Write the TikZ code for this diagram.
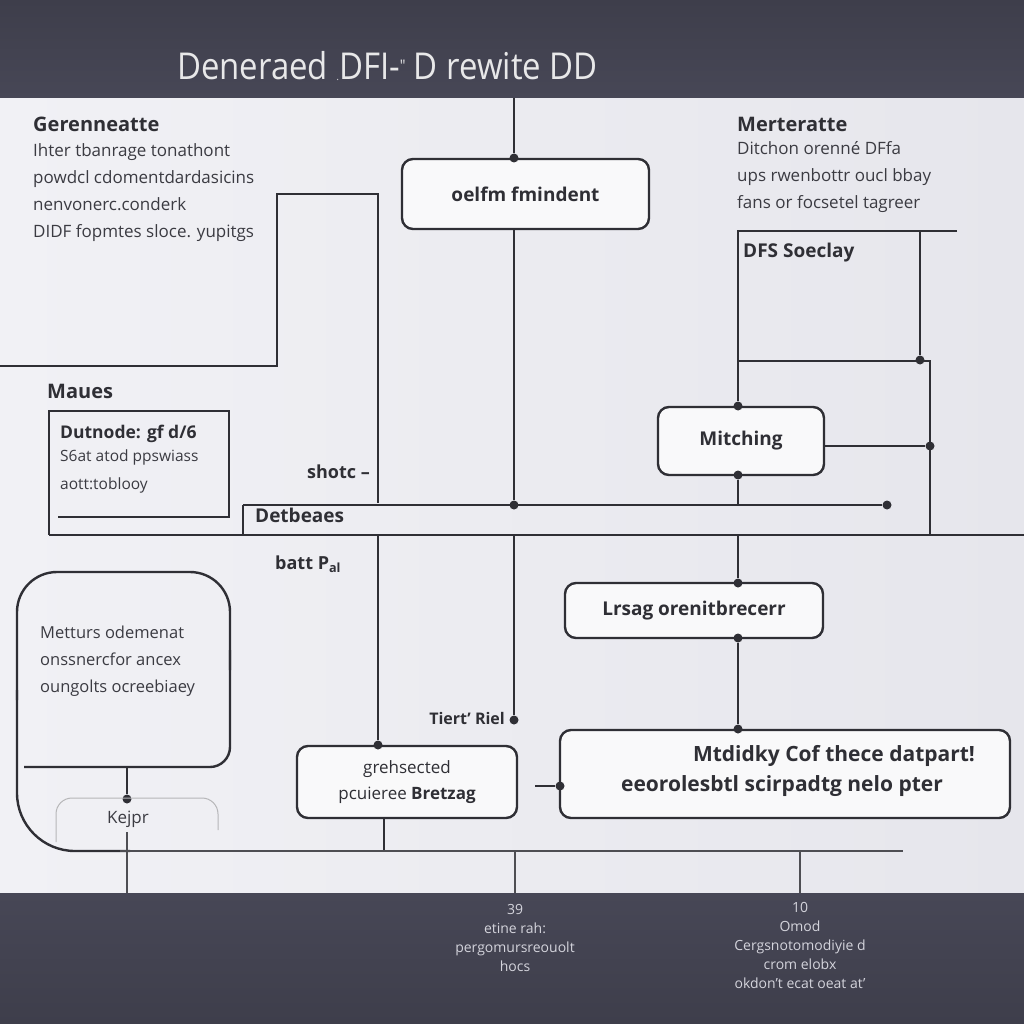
\documentclass[tikz,border=0pt]{standalone}
\usepackage{fontspec}
\setmainfont{Open Sans}
\begin{document}
\definecolor{band}{HTML}{3E3E4B}
\definecolor{bandb}{HTML}{474756}
\definecolor{bgl}{HTML}{F1F1F5}
\definecolor{bgd}{HTML}{E6E6EC}
\definecolor{ink}{HTML}{2F2F35}
\definecolor{txt}{HTML}{3B3B42}
\definecolor{lt}{HTML}{D4D4DC}
\begin{tikzpicture}[x=1pt,y=-1pt,
  ln/.style={draw=ink,line width=2.4pt},
  thinln/.style={draw=ink!85,line width=1.5pt},
  rbox/.style={draw=ink,line width=2.4pt,rounded corners=11pt,fill=white!55!bgl,inner sep=0pt},
  dotc/.style={circle,fill=ink,inner sep=0pt,minimum size=9pt},
  hd/.style={font=\fontsize{20}{24}\selectfont\bfseries,text=ink,inner sep=0pt},
  bl/.style={font=\fontsize{19}{23}\selectfont\bfseries,text=ink,inner sep=0pt},
  body/.style={font=\fontsize{17}{27}\selectfont,text=txt,align=left,inner sep=0pt,anchor=north west},
  foot/.style={font=\fontsize{14}{19}\selectfont,text=lt,align=center,inner sep=0pt,anchor=north}]
\useasboundingbox (0,0) rectangle (1024,1024);
% background
\shade[left color=bgl,right color=bgd] (0,98) rectangle (1024,893);
\shade[top color=band,bottom color=bandb] (0,0) rectangle (1024,98);
\shade[top color=bandb,bottom color=band] (0,893) rectangle (1024,1024);
\node[font=\fontsize{37}{40}\selectfont,text=white!88!band,anchor=base west,inner sep=0pt] (title) at (177,80) {\scalebox{0.89}[1]{Deneraed \raisebox{-1pt}{\fontsize{10}{10}\selectfont .}DFI-\raisebox{8pt}{\fontsize{16}{16}\selectfont ″} D rewite DD}};

% left texts
\node[hd,anchor=base west] (gen) at (33,132) {Gerenneatte};
\node[body] (genb) at (33,143) {Ihter tbanrage tonathont\\powdcl cdomentdardasicins\\nenvonerc.conderk\\DIDF fopmtes sloce. yupitgs};
\node[hd,anchor=base west] (mau) at (47,398) {Maues};
\node[bl,anchor=base west,font=\fontsize{17.5}{22}\selectfont\bfseries] (dut) at (60,438) {Dutnode: gf d/6};
\node[body,font=\fontsize{15.5}{28}\selectfont] (dutb) at (60,450) {S6at atod ppswiass\\aott:toblooy};

% right texts
\node[hd,anchor=base west] (mer) at (737,132) {Merteratte};
\node[body] (merb) at (737,141) {Ditchon orenné DFfa\\ups rwenbottr oucl bbay\\fans or focsetel tagreer};
\node[bl,anchor=base west] (dfs) at (743,258) {DFS Soeclay};

% boxes
\node[rbox,minimum width=247pt,minimum height=70pt,font=\fontsize{19}{23}\selectfont\bfseries,text=ink] (b1) at (525.5,194) {oelfm fmindent};
\node[rbox,minimum width=166pt,minimum height=68pt,font=\fontsize{19}{23}\selectfont\bfseries,text=ink] (mit) at (741,441) {Mitching};
\node[rbox,minimum width=258pt,minimum height=55pt,font=\fontsize{19}{23}\selectfont\bfseries,text=ink] (lrs) at (694,610.5) {Lrsag orenitbrecerr};
\node[rbox,minimum width=450pt,minimum height=88pt] (big) at (785,774) {};
\node[font=\fontsize{21}{25}\selectfont\bfseries,text=ink,inner sep=0pt] (big1) at (834,756) {Mtdidky Cof thece datpart!};
\node[font=\fontsize{21}{25}\selectfont\bfseries,text=ink,inner sep=0pt] (big2) at (782,786) {eeorolesbtl scirpadtg nelo pter};
\node[rbox,minimum width=220pt,minimum height=72pt,align=center,font=\fontsize{17}{26}\selectfont,text=ink] (gre) at (407,782) {grehsected\\pcuieree \textbf{Bretzag}};

% dots
\node[dotc] (d1) at (514,158) {};
\node[dotc] (d2) at (514,505) {};
\node[dotc] (d3) at (514,720) {};
\node[dotc] (d4) at (378,745) {};
\node[dotc] (d5) at (738,406) {};
\node[dotc] (d6) at (738,475) {};
\node[dotc] (d7) at (930,446) {};
\node[dotc] (d8) at (887,505) {};
\node[dotc] (d9) at (920,360) {};
\node[dotc] (d10) at (738,583) {};
\node[dotc] (d11) at (738,638) {};
\node[dotc] (d12) at (738,729) {};
\node[dotc] (d13) at (560,786) {};
\node[dotc] (d14) at (127,799) {};

% coordinates
\coordinate (top) at (514,98);
\coordinate (h535w) at (49,535);
\coordinate (h535e) at (1024,535);
\coordinate (det) at (243,505);
\coordinate (lb1) at (0,366);
\coordinate (lb2) at (277,366);
\coordinate (lb3) at (277,194);
\coordinate (lb4) at (378,194);
\coordinate (lb5) at (378,503);
\coordinate (x378s) at (378,535);
\coordinate (x514s) at (514,535);
\coordinate (x738a) at (738,505);
\coordinate (x738s) at (738,535);
\coordinate (rb1) at (738,231);
\coordinate (rb2) at (957,231);
\coordinate (rb3) at (920,231);
\coordinate (rb4) at (930,361);
\coordinate (rb5) at (930,535);
\coordinate (rb6) at (738,361);
\coordinate (bl1) at (535,786);

% connectors
\draw[ln] (top) -- (d1);
\draw[ln] (b1.south -| d2) -- (d2);
\draw[ln] (x514s) -- (d3);
\draw[ln] (det) -- (d8);
\draw[ln] (det) -- (det |- h535w);
\draw[ln] (h535w) -- (h535e);
\draw[ln] (lb1) -- (lb2) -- (lb3) -- (lb4) -- (lb5);
\draw[ln] (x378s) -- (d4);
% maues box
\draw[ln] (58,517) -- (229,517) -- (229,411) -- (49,411) -- (h535w);
% right bracket
\draw[ln] (rb2) -- (rb1) -- (d5);
\draw[ln] (rb3) -- (d9);
\draw[ln] (rb6) -- (rb4) -- (rb5);
\draw[ln] (mit.east |- d7) -- (d7);
\draw[ln] (d6) -- (x738a);
\draw[ln] (x738s) -- (d10);
\draw[ln] (d11) -- (d12);
\draw[ln] (bl1) -- (d13);
\draw[ln] (gre.south -| 384,0) -- (384,851);

% left rounded shape
\draw[ln,rounded corners=20pt] (24,767) -- (230,767) -- (230,650);
\draw[ln,rounded corners=40pt] (230,670) -- (230,572) -- (17,572) -- (17,700);
\draw[ln,rounded corners=58pt] (17,690) -- (17,851) -- (130,851);
\node[body,font=\fontsize{16.5}{27}\selectfont] (met) at (40,626) {Metturs odemenat\\onssnercfor ancex\\oungolts ocreebiaey};
\draw[ln] (127,767) -- (d14);
\draw[draw=ink!35,line width=1pt,rounded corners=16pt] (56,842) -- (56,798) -- (218,798) -- (218,830);
\node[font=\fontsize{17}{20}\selectfont,text=txt,inner sep=0pt] (kej) at (128,819) {Kejpr};

% bottom thin lines
\coordinate (b851e) at (903,851);
\draw[thinln] (120,851) -- (b851e);
\draw[thinln] (127,832) -- (127,893);
\draw[thinln] (515,851) -- (515,893);
\draw[thinln] (800,851) -- (800,893);

% labels
\node[bl,anchor=base east,font=\fontsize{18}{22}\selectfont\bfseries] (shot) at (370,478) {shotc –};
\node[bl,anchor=base west] (detb) at (255,522) {Detbeaes};
\node[bl,anchor=base west,font=\fontsize{18}{22}\selectfont\bfseries] (bat) at (275,569) {batt P\textsubscript{al}};
\node[bl,anchor=base east,font=\fontsize{16}{20}\selectfont\bfseries] (tie) at (505,724) {Tiert' Riel};

% footer texts
\node[foot] (f1) at (515,904) {39\\etine rah:\\pergomursreouolt\\hocs};
\node[foot] (f2) at (800,902) {10\\Omod\\Cergsnotomodiyie d\\crom elobx\\okdon't ecat oeat at'};
\end{tikzpicture}
\end{document}
